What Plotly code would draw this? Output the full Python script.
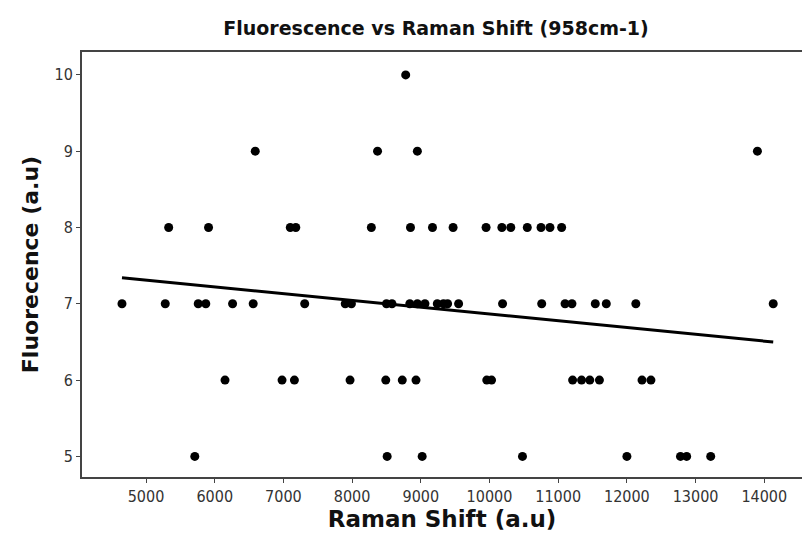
import numpy as np
import plotly.graph_objects as go

# Raman shift (x) and fluorescence (y) readings
raman_y10 = [8780]
raman_y9 = [6590, 8370, 8950, 13900]
raman_y8 = [5330, 5910, 7100, 7180, 8280, 8850, 9170, 9470, 9950, 10180,
            10310, 10550, 10750, 10880, 11050]
raman_y7 = [4650, 5280, 5760, 5870, 6260, 6560, 7310, 7900, 7990, 8500,
            8580, 8840, 8950, 9060, 9240, 9330, 9390, 9550, 10190, 10760,
            11100, 11200, 11540, 11700, 12130, 14130]
raman_y6 = [6150, 6980, 7160, 7970, 8490, 8730, 8930, 9960, 10030, 11210,
            11340, 11460, 11600, 12220, 12350]
raman_y5 = [5710, 8510, 9020, 10480, 12000, 12780, 12870, 13220]

groups = [(10, raman_y10), (9, raman_y9), (8, raman_y8), (7, raman_y7),
          (6, raman_y6), (5, raman_y5)]
x = []
y = []
for level, xs in groups:
    x += xs
    y += [level] * len(xs)
x = np.array(x, dtype=float)
y = np.array(y, dtype=float)

slope, intercept = np.polyfit(x, y, 1)
fit_x = np.array([x.min(), x.max()])
fit_y = slope * fit_x + intercept

x_ticks = [5000, 6000, 7000, 8000, 9000, 10000, 11000, 12000, 13000, 14000]
y_ticks = [5, 6, 7, 8, 9, 10]

fig = go.Figure()
fig.add_trace(go.Scatter(x=fit_x, y=fit_y, mode="lines",
                         line=dict(color="black", width=3), showlegend=False))
fig.add_trace(go.Scatter(x=x, y=y, mode="markers",
                         marker=dict(color="black", size=9), showlegend=False))

fig.update_layout(
    width=802, height=540,
    margin=dict(l=82, r=0, t=52, b=63, autoexpand=False),
    paper_bgcolor="white", plot_bgcolor="white",
    title=dict(text="<b>Fluorescence vs Raman Shift (958cm-1)</b>",
               xref="container", x=436 / 802, xanchor="center",
               yref="container", y=0.948, yanchor="middle",
               font=dict(family="DejaVu Sans", size=19, color="#111")),
    font=dict(family="DejaVu Sans Condensed, DejaVu Sans", color="#333"),
)
fig.update_xaxes(
    range=[4068, 14549], tickvals=x_ticks, ticktext=[str(v) for v in x_ticks],
    showgrid=False, zeroline=False, automargin=False,
    showline=True, linecolor="#444", linewidth=2, mirror=True,
    ticks="outside", ticklen=4, tickcolor="#444",
    tickfont=dict(size=16, color="#333"),
    title=dict(text="<b>Raman Shift (a.u)</b>", standoff=6,
               font=dict(family="DejaVu Sans", size=23, color="#111")),
)
fig.update_yaxes(
    range=[4.73, 10.30], tickvals=y_ticks, ticktext=[str(v) for v in y_ticks],
    showgrid=False, zeroline=False, automargin=False,
    showline=True, linecolor="#444", linewidth=2, mirror=False,
    ticks="outside", ticklen=4, tickcolor="#444",
    tickfont=dict(size=16, color="#333"),
    title=dict(text="<b>Fluorecence (a.u)</b>", standoff=10,
               font=dict(family="DejaVu Sans", size=22, color="#111")),
)

fig.write_html(
    "out.html",
    config={"displayModeBar": False},
    post_script="document.body.style.margin='0';document.body.style.overflow='hidden';",
)
